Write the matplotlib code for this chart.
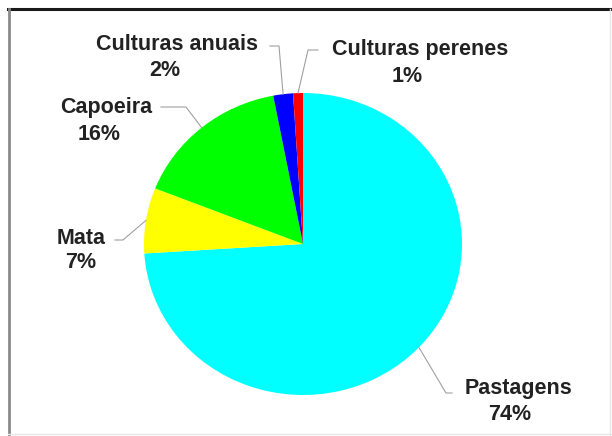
import matplotlib
matplotlib.use('Agg')
import matplotlib.pyplot as plt
import numpy as np
from matplotlib.lines import Line2D

# land use shares (%)
labels = ['Pastagens', 'Mata', 'Capoeira', 'Culturas anuais', 'Culturas perenes']
shares = [74, 7, 16, 2, 1]
colors = ['#00FFFF', '#FFFF00', '#00FF00', '#0000FF', '#FF0000']

W, H = 612, 436
fig = plt.figure(figsize=(W / 100, H / 100), dpi=100)

# pie is a bit wider than tall, like the original
cx, cy, rx, ry = 303, 244, 159, 151
ax = fig.add_axes([(cx - rx) / W, (H - cy - ry) / H, 2 * rx / W, 2 * ry / H])
wedges, _ = ax.pie(shares, colors=colors, startangle=90, counterclock=False,
                   radius=1, center=(0, 0), wedgeprops=dict(linewidth=0))
ax.set_aspect('auto')
ax.set_xlim(-1, 1)
ax.set_ylim(-1, 1)
ax.axis('off')


def px(x, y):
    # figure pixel (from top-left) -> pie data coords
    return (x - cx) / rx, (cy - y) / ry


# name line and percent line centres, plus leader start/elbow, in pixels
name_pos = [(518, 388), (81, 238), (106, 108), (177, 45), (420, 49)]
pct_pos = [(510, 414), (81, 263), (99, 135), (165, 71), (407, 76)]
leader = [((452, 393), (446, 393)),
          ((115, 240), (123, 240)),
          ((161, 107), (186, 107)),
          ((270, 46), (279, 46)),
          ((318, 50), (308, 50))]

for w, lab, val, npos, ppos, (p0, p1) in zip(wedges, labels, shares,
                                             name_pos, pct_pos, leader):
    ang = np.deg2rad((w.theta1 + w.theta2) / 2)
    pts = [px(*p0), px(*p1), (np.cos(ang), np.sin(ang))]
    ax.plot([p[0] for p in pts], [p[1] for p in pts], color='#a0a0a0',
            lw=0.8, clip_on=False)
    for s, pos in ((lab, npos), (f'{val}%', ppos)):
        tx, ty = px(*pos)
        ax.text(tx, ty, s, ha='center', va='center', fontsize=15.5,
                fontweight='bold', family='Liberation Sans',
                color='#222222', clip_on=False)

# frame around the chart
def fline(x0, y0, x1, y1, c, lw):
    fig.add_artist(Line2D([x0 / W, x1 / W], [1 - y0 / H, 1 - y1 / H],
                          color=c, lw=lw, transform=fig.transFigure))

fline(8, 9, 612, 9, '#1a1a1a', 2.2)
fline(9, 9, 9, 436, '#8a8a8a', 2.0)
fline(610, 9, 610, 436, '#e6e6e6', 1.0)
fline(8, 434, 612, 434, '#e6e6e6', 1.0)

fig.savefig('out.png', dpi=100)
